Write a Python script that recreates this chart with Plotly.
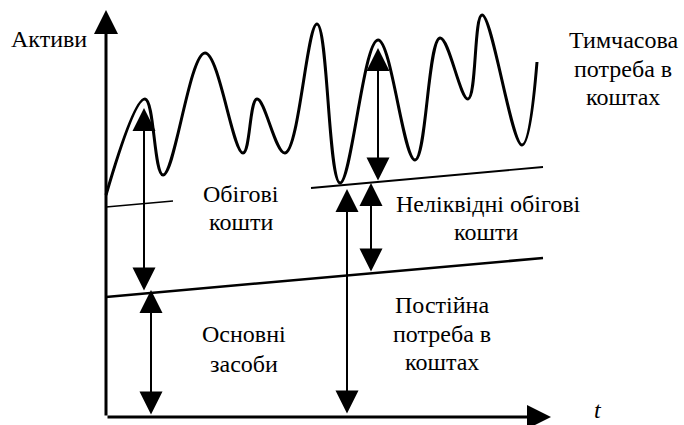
import plotly.graph_objects as go

# Diagram units: origin at the corner of the axes, x to the right, y upward (1 unit ~ 1 px)

# Temporary need in funds: turning points of the wavy curve
curve_t = [0, 39, 57, 99, 137, 151, 179, 211, 234, 272, 309, 334, 362, 376, 416, 431]
curve_v = [222, 318, 242, 364, 264, 318, 264, 393, 234, 377, 257, 379, 318, 402, 272, 355]

# Upper boundary (illiquid working capital) – drawn as two pieces with a gap for the label
upper_left_t = [0, 67]
upper_left_v = [210, 216]
upper_right_t = [205, 437]
upper_right_v = [229, 250]

# Lower boundary (fixed assets)
lower_t = [0, 437]
lower_v = [120, 159]

# Double-headed dimension arrows: x position, top tip, bottom tip
arrow_t = [38, 45, 272, 241, 265]
arrow_top = [309, 127, 369, 228, 234]
arrow_bottom = [125, 1, 235, 2, 144]

# Axis tips
y_axis_tip = 407
x_axis_tip = 445

# Text lines: text, x, y, horizontal anchor
labels = [
    ("Активи", -97, 378, "left"),
    ("Тимчасова", 517, 377, "center"),
    ("потреба в", 517, 348, "center"),
    ("коштах", 517, 320, "center"),
    ("Обігові", 135, 223, "center"),
    ("кошти", 135, 195, "center"),
    ("Неліквідні обігові", 382, 213, "center"),
    ("кошти", 380, 185, "center"),
    ("Постійна", 336, 112, "center"),
    ("потреба в", 336, 83, "center"),
    ("коштах", 336, 55, "center"),
    ("Основні", 138, 83, "center"),
    ("засоби", 138, 53, "center"),
]
time_label = ("<i>t</i>", 492, 7)

FONT = "Liberation Serif"
SIZE = 24

fig = go.Figure()

fig.add_trace(go.Scatter(
    x=curve_t, y=curve_v, mode="lines",
    line=dict(color="black", width=3, shape="spline", smoothing=1.1),
    hoverinfo="skip",
))
for xs, ys, w in [(upper_left_t, upper_left_v, 1.6),
                  (upper_right_t, upper_right_v, 1.8),
                  (lower_t, lower_v, 2.5)]:
    fig.add_trace(go.Scatter(x=xs, y=ys, mode="lines",
                             line=dict(color="black", width=w), hoverinfo="skip"))

annotations = []

# Axes with arrowheads
for tip_x, tip_y in [(0, y_axis_tip), (x_axis_tip, 0)]:
    annotations.append(dict(x=tip_x, y=tip_y, ax=0, ay=0, xref="x", yref="y",
                            axref="x", ayref="y", showarrow=True, text="",
                            arrowhead=2, arrowsize=1.6, arrowwidth=3,
                            arrowcolor="black", standoff=0))

# Dimension arrows
for t, top, bot in zip(arrow_t, arrow_top, arrow_bottom):
    annotations.append(dict(x=t, y=top, ax=t, ay=bot, xref="x", yref="y",
                            axref="x", ayref="y", showarrow=True, text="",
                            arrowhead=2, startarrowhead=2, arrowside="end+start",
                            arrowsize=2.3, startarrowsize=2.3, arrowwidth=2,
                            arrowcolor="black", standoff=0, startstandoff=0))

for text, x, y, anchor in labels + [time_label + ("center",)]:
    annotations.append(dict(x=x, y=y, xref="x", yref="y", text=text,
                            showarrow=False, xanchor=anchor, yanchor="middle",
                            align="center",
                            font=dict(family=FONT, size=SIZE, color="black")))

fig.update_layout(
    width=684, height=425,
    margin=dict(l=0, r=0, t=0, b=0),
    paper_bgcolor="white", plot_bgcolor="white",
    showlegend=False,
    font=dict(family=FONT),
    xaxis=dict(range=[-106, 578], visible=False, fixedrange=True),
    yaxis=dict(range=[-8, 417], visible=False, fixedrange=True),
    annotations=annotations,
)

fig.write_html("out.html")
